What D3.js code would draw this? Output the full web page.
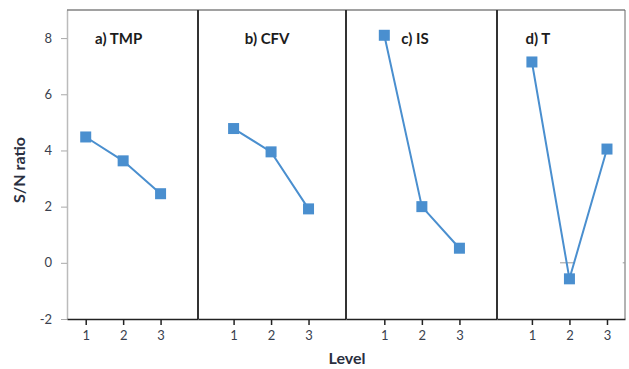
<!DOCTYPE html>
<html>
<head>
<meta charset="utf-8">
<script src="https://cdn.jsdelivr.net/npm/d3@7"></script>
<style>
  body { margin: 0; background: #fff; }
  text { font-family: Lato, "Open Sans", sans-serif; }
</style>
</head>
<body>
<div id="chart"></div>
<script>
// data
var levels = [1, 2, 3];
var panelTitles = ["a) TMP", "b) CFV", "c) IS", "d) T"];
var tmpValues = [4.48, 3.63, 2.46];
var cfvValues = [4.78, 3.95, 1.92];
var isValues = [8.1, 2.0, 0.52];
var tValues = [7.15, -0.57, 4.05];
var yTicks = [-2, 0, 2, 4, 6, 8];

var series = [tmpValues, cfvValues, isValues, tValues];

// layout: panel edges in px and visible level range of each panel
var edges = [67, 198, 346, 497, 625];
var panelDomains = [[0.5, 4], [0.05, 4], [-0.02, 4], [0.07, 3.48]];
var titleX = [1.25, 1.3, 1.45, 0.83];

var width = 629, height = 369,
    plotTop = 10, plotBottom = 319;

var svg = d3.select("#chart").append("svg")
    .attr("width", width)
    .attr("height", height);

var y = d3.scaleLinear().domain([-2, 9]).range([plotBottom, plotTop]);

// y axis (gray), plain hyphen for negatives like the original
var yAxis = svg.append("g")
    .attr("transform", "translate(" + edges[0] + ",0)")
    .call(d3.axisLeft(y).tickValues(yTicks)
        .tickFormat(function (d) { return String(d); })
        .tickSize(6).tickPadding(9).tickSizeOuter(0));
yAxis.select(".domain").attr("stroke", "#bbb").attr("stroke-width", 1.5);
yAxis.selectAll(".tick line").attr("stroke", "#aaa");
yAxis.selectAll(".tick text")
    .attr("fill", "#3a3f4e")
    .style("font-size", "13px");

// top border
svg.append("line")
    .attr("x1", edges[0]).attr("x2", edges[4])
    .attr("y1", plotTop).attr("y2", plotTop)
    .attr("stroke", "#444").attr("stroke-width", 1.2);

// right border
svg.append("line")
    .attr("x1", edges[4]).attr("x2", edges[4])
    .attr("y1", plotTop).attr("y2", plotBottom)
    .attr("stroke", "#666").attr("stroke-width", 1);

// panel dividers
svg.selectAll(".divider")
    .data(edges.slice(1, 4))
    .enter().append("line")
    .attr("x1", function (d) { return d; })
    .attr("x2", function (d) { return d; })
    .attr("y1", plotTop).attr("y2", plotBottom)
    .attr("stroke", "#333").attr("stroke-width", 2);

var line = d3.line();

series.forEach(function (vals, i) {
    var x = d3.scaleLinear().domain(panelDomains[i]).range([edges[i], edges[i + 1]]);

    // bottom axis
    var xa = svg.append("g")
        .attr("transform", "translate(0," + plotBottom + ")")
        .call(d3.axisBottom(x).tickValues(levels).tickFormat(d3.format("d"))
            .tickSize(6).tickPadding(6).tickSizeOuter(0));
    xa.select(".domain").attr("stroke", "#222").attr("stroke-width", 1.5);
    xa.selectAll(".tick line").attr("stroke", "#222").attr("stroke-width", 1.5);
    xa.selectAll(".tick text")
        .attr("fill", "#3a3f4e")
        .style("font-size", "13px");

    // small gray zero reference in last panel
    if (i === 3) {
        svg.append("line")
            .attr("x1", x(1.75)).attr("x2", x(2.15))
            .attr("y1", y(0)).attr("y2", y(0))
            .attr("stroke", "#999").attr("stroke-width", 1);
        svg.append("line")
            .attr("x1", x(3.42)).attr("x2", edges[4])
            .attr("y1", y(0)).attr("y2", y(0))
            .attr("stroke", "#999").attr("stroke-width", 1);
    }

    // line
    svg.append("path")
        .attr("d", line(vals.map(function (v, j) { return [x(levels[j]), y(v)]; })))
        .attr("fill", "none")
        .attr("stroke", "#4a8fcf")
        .attr("stroke-width", 2);

    // square markers
    svg.selectAll(".m" + i)
        .data(vals)
        .enter().append("rect")
        .attr("x", function (d, j) { return x(levels[j]) - 5.5; })
        .attr("y", function (d) { return y(d) - 5.5; })
        .attr("width", 11).attr("height", 11)
        .attr("fill", "#4a8fcf");

    // panel title
    svg.append("text")
        .attr("x", x(titleX[i]))
        .attr("y", 44)
        .attr("fill", "#1c1c1c")
        .style("font-size", "15px")
        .style("font-weight", "bold")
        .text(panelTitles[i]);
});

// axis titles
svg.append("text")
    .attr("transform", "translate(25," + 170 + ") rotate(-90)")
    .attr("text-anchor", "middle")
    .attr("fill", "#2a2f40")
    .style("font-size", "16px")
    .style("font-weight", "bold")
    .text("S/N ratio");

svg.append("text")
    .attr("x", 347)
    .attr("y", 364)
    .attr("text-anchor", "middle")
    .attr("fill", "#2a2f40")
    .style("font-size", "16px")
    .style("font-weight", "bold")
    .text("Level");
</script>
</body>
</html>
